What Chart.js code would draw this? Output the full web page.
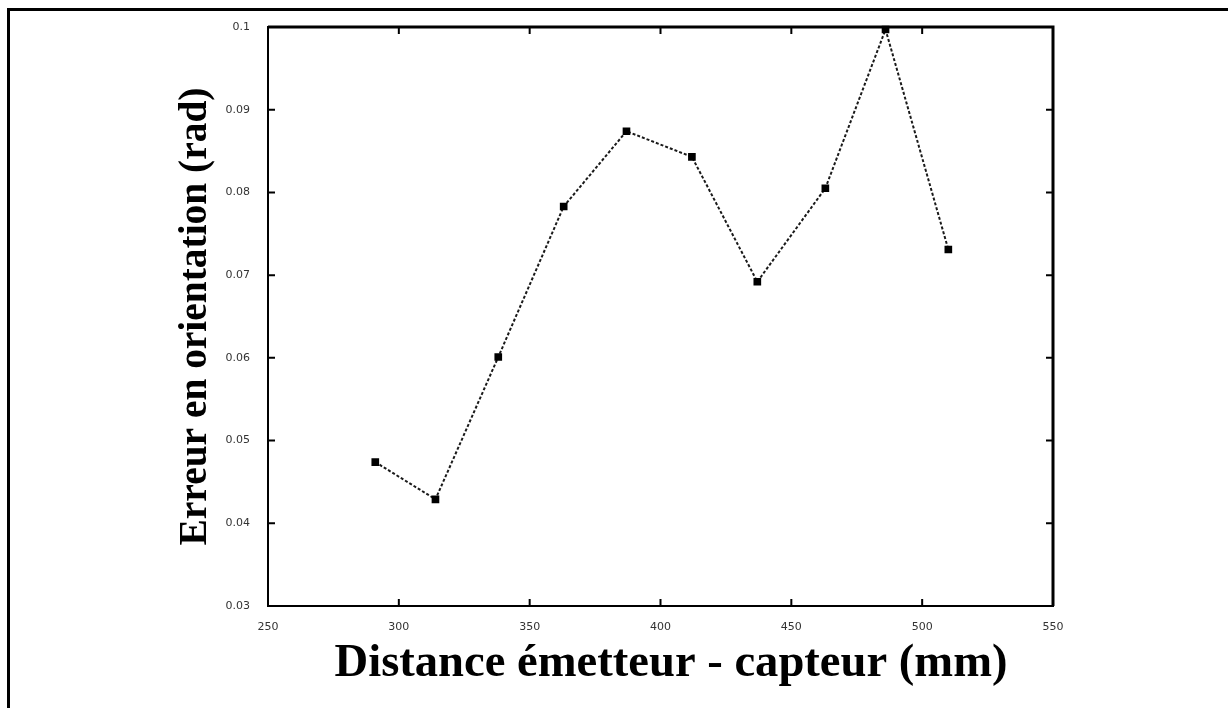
<!DOCTYPE html>
<html>
<head>
<meta charset="utf-8">
<script src="https://cdn.jsdelivr.net/npm/chart.js@4"></script>
<style>
  html, body { margin: 0; padding: 0; background: #fff; }
  #wrap { position: relative; width: 1228px; height: 708px; overflow: hidden; }
  #frame { position: absolute; left: 7px; top: 8px; width: 1300px; height: 800px;
           border-top: 3px solid #000; border-left: 3px solid #000; }
  #chart { position: absolute; left: 0; top: 0; }
</style>
</head>
<body>
<div id="wrap">
  <div id="frame"></div>
  <canvas id="chart" width="1228" height="708"></canvas>
</div>
<script>
// data
const distances = [291, 314, 338, 363, 387, 412, 437, 463, 486, 510];
const errors = [0.0474, 0.0429, 0.0601, 0.0783, 0.0874, 0.0843, 0.0692, 0.0805, 0.0997, 0.0731];
const xTicks = [250, 300, 350, 400, 450, 500, 550];
const yTicks = [0.03, 0.04, 0.05, 0.06, 0.07, 0.08, 0.09, 0.1];
const xTitle = 'Distance émetteur - capteur (mm)';
const yTitle = 'Erreur en orientation (rad)';

// picks a font size so the text spans `width` px, then draws it
const fitText = (ctx, text, x, y, width, angle) => {
    ctx.save();
    ctx.font = 'bold 32px "Liberation Serif", serif';
    const size = 32 * width / ctx.measureText(text).width;
    ctx.font = 'bold ' + size + 'px "Liberation Serif", serif';
    ctx.translate(x, y);
    ctx.rotate(angle);
    ctx.fillText(text, 0, 0);
    ctx.restore();
};

// frame, inward ticks and axis titles
const framePlugin = {
    id: 'frame',
    afterDraw(chart) {
        const { ctx, chartArea: a, scales } = chart;
        const tl = 7;
        ctx.save();
        ctx.strokeStyle = '#000';
        ctx.lineWidth = 2;
        ctx.strokeRect(a.left, a.top, a.right - a.left, a.bottom - a.top);
        // thicker top and right edges
        ctx.lineWidth = 3;
        ctx.beginPath();
        ctx.moveTo(a.left, a.top);
        ctx.lineTo(a.right, a.top);
        ctx.lineTo(a.right, a.bottom);
        ctx.stroke();

        ctx.lineWidth = 2;
        ctx.beginPath();
        xTicks.forEach(v => {
            const x = scales.x.getPixelForValue(v);
            ctx.moveTo(x, a.bottom); ctx.lineTo(x, a.bottom - tl);
            ctx.moveTo(x, a.top); ctx.lineTo(x, a.top + tl);
        });
        yTicks.forEach(v => {
            const y = scales.y.getPixelForValue(v);
            ctx.moveTo(a.left, y); ctx.lineTo(a.left + tl, y);
            ctx.moveTo(a.right, y); ctx.lineTo(a.right - tl, y);
        });
        ctx.stroke();

        ctx.fillStyle = '#000';
        ctx.textAlign = 'center';
        ctx.textBaseline = 'middle';
        fitText(ctx, xTitle, 671, 664, 673, 0);
        fitText(ctx, yTitle, 196, (a.top + a.bottom) / 2, 458, -Math.PI / 2);
        ctx.restore();
    }
};

new Chart(document.getElementById('chart'), {
    type: 'line',
    data: {
        datasets: [{
            data: distances.map((d, i) => ({ x: d, y: errors[i] })),
            borderColor: '#1a1a1a',
            borderWidth: 2,
            borderDash: [3, 2],
            pointStyle: 'rect',
            pointRadius: 4,
            pointBackgroundColor: '#000',
            pointBorderColor: '#000',
            tension: 0,
            clip: false
        }]
    },
    options: {
        responsive: false,
        animation: false,
        devicePixelRatio: 1,
        layout: { padding: { left: 0, top: 27, right: 175, bottom: 0 } },
        plugins: { legend: { display: false }, tooltip: { enabled: false } },
        scales: {
            x: {
                type: 'linear',
                min: 250,
                max: 550,
                afterBuildTicks: s => { s.ticks = xTicks.map(v => ({ value: v })); },
                afterFit: s => { s.height = 102; },
                grid: { display: false },
                border: { display: false },
                ticks: {
                    padding: 7,
                    color: '#333',
                    font: { family: 'DejaVu Sans', size: 11 },
                    maxRotation: 0,
                    callback: v => String(v)
                }
            },
            y: {
                type: 'linear',
                min: 0.03,
                max: 0.1,
                afterBuildTicks: s => { s.ticks = yTicks.map(v => ({ value: v })); },
                afterFit: s => { s.width = 268; },
                grid: { display: false },
                border: { display: false },
                ticks: {
                    padding: 10,
                    color: '#333',
                    font: { family: 'DejaVu Sans', size: 11 },
                    callback: v => String(Number(v.toFixed(2)))
                }
            }
        }
    },
    plugins: [framePlugin]
});
</script>
</body>
</html>
